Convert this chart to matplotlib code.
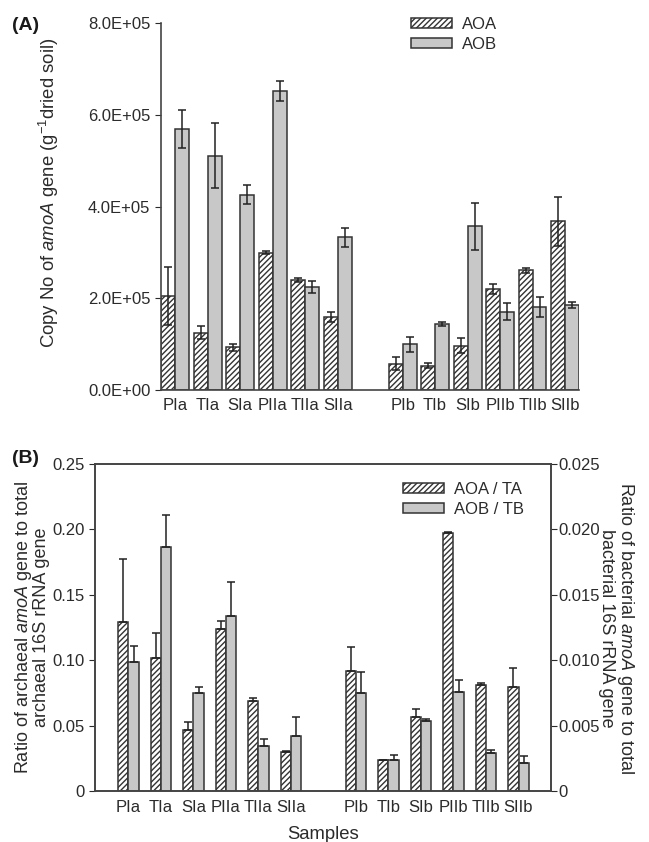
import matplotlib
matplotlib.use("Agg")
import matplotlib.pyplot as plt
import numpy as np

plt.rcParams['font.family'] = ['Liberation Sans', 'DejaVu Sans']
plt.rcParams['mathtext.fontset'] = 'custom'
plt.rcParams['mathtext.rm'] = 'Liberation Sans'
plt.rcParams['mathtext.it'] = 'Liberation Sans:italic'
plt.rcParams['hatch.linewidth'] = 1.0

# sample names (gap between the two groups)
samples = ['PIa', 'TIa', 'SIa', 'PIIa', 'TIIa', 'SIIa',
           'PIb', 'TIb', 'SIb', 'PIIb', 'TIIb', 'SIIb']
xpos = [0, 1, 2, 3, 4, 5, 7, 8, 9, 10, 11, 12]

# panel A: copy numbers
aoa_copy = [2.05e5, 1.25e5, 0.93e5, 3.00e5, 2.40e5, 1.59e5,
            0.57e5, 0.53e5, 0.97e5, 2.20e5, 2.61e5, 3.68e5]
aoa_copy_err = [0.64e5, 0.14e5, 0.08e5, 0.04e5, 0.05e5, 0.11e5,
                0.14e5, 0.05e5, 0.17e5, 0.11e5, 0.05e5, 0.54e5]
aob_copy = [5.69e5, 5.11e5, 4.26e5, 6.52e5, 2.24e5, 3.33e5,
            1.00e5, 1.44e5, 3.57e5, 1.71e5, 1.81e5, 1.86e5]
aob_copy_err = [0.42e5, 0.71e5, 0.21e5, 0.22e5, 0.13e5, 0.21e5,
                0.16e5, 0.05e5, 0.51e5, 0.18e5, 0.21e5, 0.06e5]

# panel B: ratios
aoa_ratio = [0.129, 0.102, 0.047, 0.124, 0.069, 0.030,
             0.092, 0.024, 0.057, 0.197, 0.081, 0.080]
aoa_ratio_err = [0.048, 0.019, 0.006, 0.006, 0.002, 0.0005,
                 0.018, 0.0, 0.006, 0.001, 0.002, 0.014]
aob_ratio = [0.0099, 0.0186, 0.0075, 0.0134, 0.0035, 0.0042,
             0.0075, 0.0024, 0.0054, 0.0076, 0.0029, 0.0022]
aob_ratio_err = [0.0012, 0.0025, 0.0005, 0.0026, 0.0005, 0.0015,
                 0.0016, 0.0004, 0.0001, 0.0009, 0.0003, 0.0005]

txt = '#2b2b2b'
edge = '#333333'
gray = '#c8c8c8'
fs = 12
x = np.array(xpos)

fig = plt.figure(figsize=(6.49, 8.42), dpi=100)

# ---------------- panel A ----------------
axA = fig.add_axes([0.2476, 0.5368, 0.6445, 0.4355])
w = 0.43
axA.bar(x - w / 2, aoa_copy, w, color='white', edgecolor=edge, hatch='//////',
        linewidth=1.1, label='AOA')
axA.bar(x + w / 2, aob_copy, w, color=gray, edgecolor=edge, linewidth=1.1, label='AOB')
axA.errorbar(x - w / 2, aoa_copy, yerr=aoa_copy_err, fmt='none', ecolor='#222222',
             elinewidth=1.1, capsize=3, capthick=1.1)
axA.errorbar(x + w / 2, aob_copy, yerr=aob_copy_err, fmt='none', ecolor='#222222',
             elinewidth=1.1, capsize=3, capthick=1.1)
axA.set_xlim(-0.45, 12.43)
axA.set_ylim(0, 8e5)
axA.set_yticks([0, 2e5, 4e5, 6e5, 8e5])
axA.set_yticklabels(['0.0E+00', '2.0E+05', '4.0E+05', '6.0E+05', '8.0E+05'])
axA.set_xticks(x)
axA.set_xticklabels(samples)
axA.tick_params(axis='x', length=0, pad=6, labelsize=fs, colors=txt)
axA.tick_params(axis='y', length=4, direction='out', labelsize=fs, colors=txt)
for s in ['top', 'right']:
    axA.spines[s].set_visible(False)
for s in ['left', 'bottom']:
    axA.spines[s].set_color('#444444')
    axA.spines[s].set_linewidth(1.2)
fig.text(0.075, 0.7708, r'Copy No of $\it{amoA}$ gene (g$^{-1}$dried soil)', fontsize=13.3,
         color=txt, rotation=90, ha='center', va='center')
axA.legend(loc='upper left', bbox_to_anchor=(0.633, 0.9798), bbox_transform=fig.transFigure,
           frameon=False, fontsize=fs, handlelength=2.45, handleheight=0.55,
           handletextpad=0.6, labelspacing=0.3, borderpad=0, borderaxespad=0, labelcolor=txt)
fig.text(0.018, 0.970, '(A)', fontsize=14, fontweight='bold', color='#1a1a1a', va='center')

# ---------------- panel B ----------------
axB = fig.add_axes([0.1464, 0.06, 0.7026, 0.3895])
axB2 = axB.twinx()
wb = 0.32
axB.bar(x - wb / 2, aoa_ratio, wb, color='white', edgecolor=edge, hatch='//////',
        linewidth=1.1, label='AOA / TA')
axB.errorbar(x - wb / 2, aoa_ratio, yerr=[np.zeros(len(aoa_ratio)), aoa_ratio_err],
             fmt='none', ecolor='#222222', elinewidth=1.1, capsize=3, capthick=1.1)
axB2.bar(x + wb / 2, aob_ratio, wb, color=gray, edgecolor=edge, linewidth=1.1,
         label='AOB / TB')
axB2.errorbar(x + wb / 2, aob_ratio, yerr=[np.zeros(len(aob_ratio)), aob_ratio_err],
              fmt='none', ecolor='#222222', elinewidth=1.1, capsize=3, capthick=1.1)
axB.set_xlim(-1.03, 13.0)
axB.set_ylim(0, 0.25)
axB2.set_ylim(0, 0.025)
axB.set_yticks([0, 0.05, 0.10, 0.15, 0.20, 0.25])
axB.set_yticklabels(['0', '0.05', '0.10', '0.15', '0.20', '0.25'])
axB2.set_yticks([0, 0.005, 0.010, 0.015, 0.020, 0.025])
axB2.set_yticklabels(['0', '0.005', '0.010', '0.015', '0.020', '0.025'])
axB.set_xticks(x)
axB.set_xticklabels(samples)
axB.tick_params(axis='x', length=0, pad=6, labelsize=fs, colors=txt)
axB.tick_params(axis='y', length=4, direction='out', labelsize=fs, colors=txt)
axB2.tick_params(axis='y', length=4, direction='out', labelsize=fs, colors=txt, pad=1)
for a in (axB, axB2):
    for s in a.spines.values():
        s.set_color('#444444')
        s.set_linewidth(1.2)
axB.set_xlabel('Samples', fontsize=13.3, color=txt, labelpad=8)
fig.text(0.049, 0.2553, 'Ratio of archaeal $\\it{amoA}$ gene to total\narchaeal 16S rRNA gene',
         fontsize=13, color=txt, rotation=90, ha='center', va='center', linespacing=0.95)
fig.text(0.9507, 0.254, 'Ratio of bacterial $\\it{amoA}$ gene to total\nbacterial 16S rRNA gene',
         fontsize=13, color=txt, rotation=270, ha='center', va='center', linespacing=0.95)
h1, l1 = axB.get_legend_handles_labels()
h2, l2 = axB2.get_legend_handles_labels()
axB2.legend(h1 + h2, l1 + l2, loc='upper left', bbox_to_anchor=(0.621, 0.4276),
            bbox_transform=fig.transFigure, frameon=False, fontsize=fs,
            handlelength=2.45, handleheight=0.55, handletextpad=0.6, labelspacing=0.3,
            borderpad=0, borderaxespad=0, labelcolor=txt)
fig.text(0.018, 0.456, '(B)', fontsize=14, fontweight='bold', color='#1a1a1a', va='center')

fig.savefig('out.png', dpi=100)
